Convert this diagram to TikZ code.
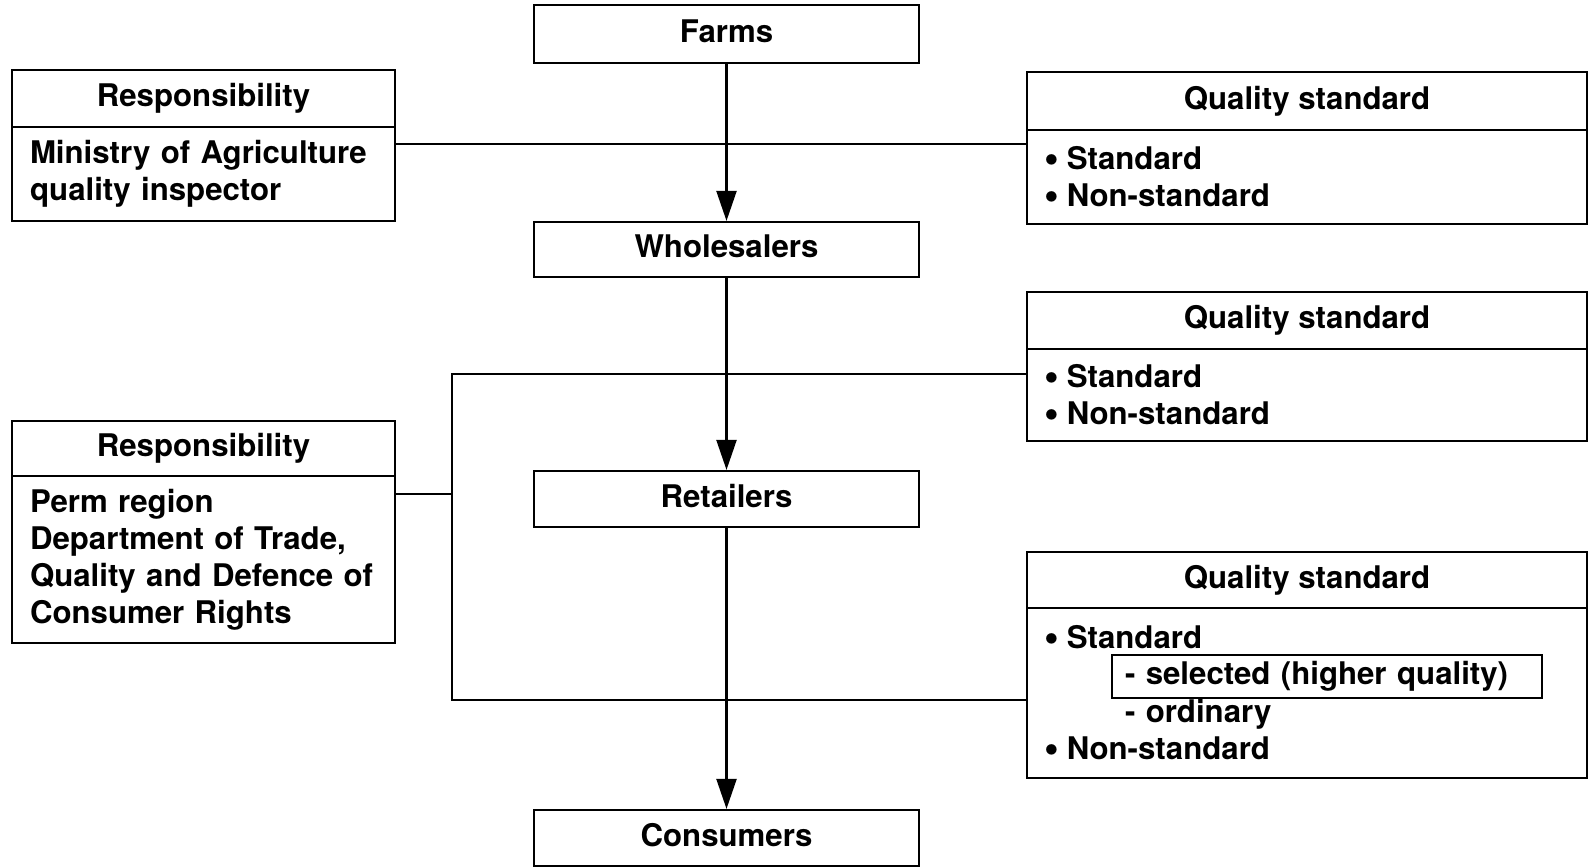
\documentclass[tikz,border=0pt]{standalone}
\usepackage{fontspec}
\usepackage{graphicx}
\setmainfont{TeX Gyre Heros}
\usetikzlibrary{arrows.meta}
\newcommand{\bul}{\smash{\raisebox{-1.2pt}{\scalebox{1.35}{\textbullet}}}\hspace{4pt}}

\begin{document}
\begin{tikzpicture}[x=0.50pt,y=0.50pt,yscale=-1,xscale=1,
  every node/.style={font=\fontsize{15.6}{18.5}\selectfont\bfseries},
  flowbox/.style={draw, line width=1.1pt, minimum width=192.5pt, inner sep=0pt, text depth=3pt},
  headbox/.style={draw, line width=1.1pt, inner sep=0pt},
  bodybox/.style={draw, line width=1.1pt, inner ysep=0pt, align=left},
  link/.style={line width=1.1pt},
  flow/.style={line width=1.1pt, -{Triangle[length=15pt,width=10pt]}}]
\useasboundingbox (0,0) rectangle (1589,867);

% Flow boxes
\node[flowbox, minimum height=29pt] (farms) at (726.5,34) {Farms};
\node[flowbox, minimum height=27.5pt] (whole) at (726.5,249.5) {Wholesalers};
\node[flowbox, minimum height=28pt] (retail) at (726.5,499) {Retailers};
\node[flowbox, minimum height=28pt] (cons) at (726.5,838) {Consumers};

% Responsibility, upper
\node[headbox, minimum width=191.5pt, minimum height=28.5pt] (resp1h) at (203.5,98.5) {Responsibility};
\node[bodybox, text width=173.5pt, inner xsep=9pt, minimum height=47pt] (resp1b) at (203.5,174) {Ministry of Agriculture\\quality inspector};

% Responsibility, lower
\node[headbox, minimum width=191.5pt, minimum height=27.5pt] (resp2h) at (203.5,448.5) {Responsibility};
\node[bodybox, text width=173.5pt, inner xsep=9pt, minimum height=83.5pt] (resp2b) at (203.5,559.5) {Perm region\\Department of Trade,\\Quality and Defence of\\Consumer Rights};

% Quality standard boxes
\node[headbox, minimum width=280pt, minimum height=29pt] (qs1h) at (1307,101) {Quality standard};
\node[bodybox, text width=263pt, inner xsep=8.5pt, minimum height=47pt] (qs1b) at (1307,177) {\bul Standard\\\bul Non-standard};

\node[headbox, minimum width=280pt, minimum height=28.5pt] (qs2h) at (1307,320.5) {Quality standard};
\node[bodybox, text width=263pt, inner xsep=8.5pt, minimum height=46pt] (qs2b) at (1307,395) {\bul Standard\\\bul Non-standard};

\node[headbox, minimum width=280pt, minimum height=28pt] (qs3h) at (1307,580) {Quality standard};
\node[bodybox, text width=263pt, inner xsep=8.5pt, minimum height=85pt] (qs3b) at (1307,693) {\bul Standard\\\mbox{}\\\hspace*{40.5pt}- ordinary\\\bul Non-standard};
\node[draw, line width=1.1pt, text width=202pt, inner xsep=6.5pt, inner ysep=0pt, minimum height=21.5pt, align=left] (sel) at (1327,676.5) {- selected (higher quality)};

% Connection
\coordinate (j1) at (726.5,144);
\draw[link] (resp1b.east |- j1) -- (qs1b.west |- j1);

\coordinate (k1) at (452,374);
\coordinate (k2) at (452,494);
\coordinate (k3) at (452,700);
\draw[link] (qs2b.west |- k1) -- (k1) -- (k3) -- (qs3b.west |- k3);
\draw[link] (resp2b.east |- k2) -- (k2);

% Flow arrows
\draw[flow] (farms) -- (whole);
\draw[flow] (whole) -- (retail);
\draw[flow] (retail) -- (cons);

\end{tikzpicture}
\end{document}
